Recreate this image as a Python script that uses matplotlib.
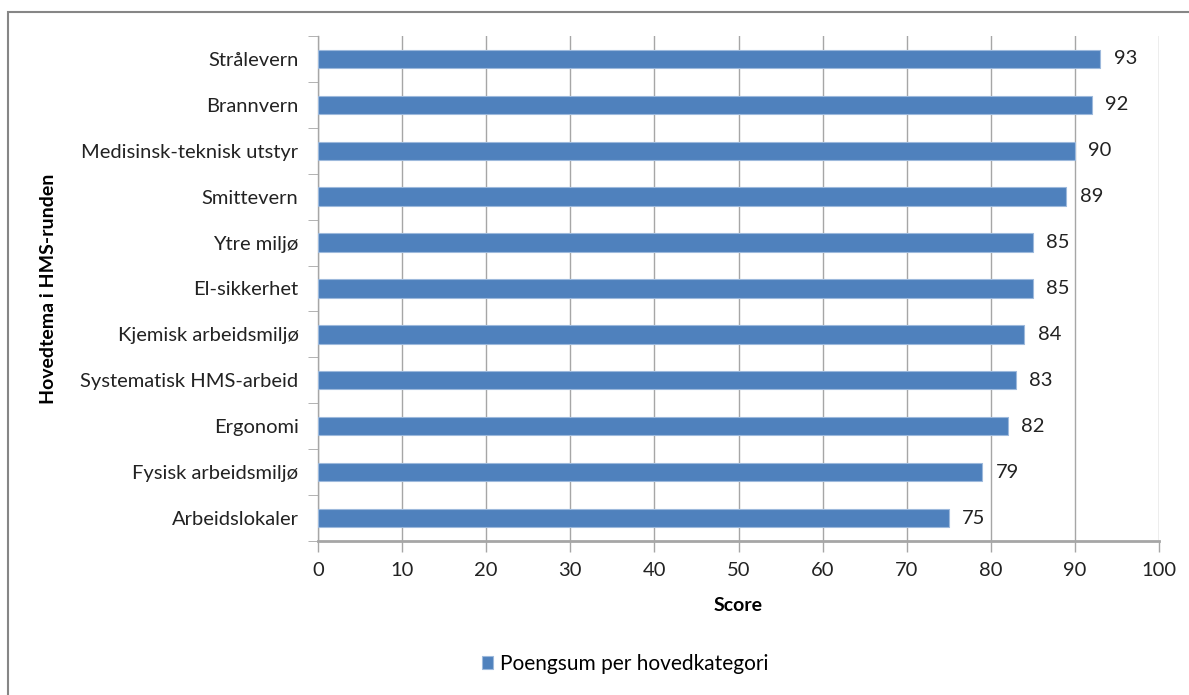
import matplotlib.pyplot as plt
from matplotlib.patches import Rectangle

# Data, top to bottom as shown in the chart
categories = ['Strålevern', 'Brannvern', 'Medisinsk-teknisk utstyr', 'Smittevern',
              'Ytre miljø', 'El-sikkerhet', 'Kjemisk arbeidsmiljø',
              'Systematisk HMS-arbeid', 'Ergonomi', 'Fysisk arbeidsmiljø',
              'Arbeidslokaler']
scores = [93, 92, 90, 89, 85, 85, 84, 83, 82, 79, 75]
x_ticks = [0, 10, 20, 30, 40, 50, 60, 70, 80, 90, 100]

plt.rcParams['font.family'] = ['Lato', 'DejaVu Sans']

fig = plt.figure(figsize=(11.89, 6.95), dpi=100)
ax = fig.add_axes([318 / 1189, 1 - 541 / 695, (1159 - 318) / 1189, (541 - 36) / 695])

# outer chart border (only top and left visible in the crop)
fig.patches.append(Rectangle((8 / 1189, -0.1), 1.2, 1 - 12 / 695 + 0.1,
                             transform=fig.transFigure, fill=False,
                             edgecolor='#868686', linewidth=1.5))

ypos = list(range(len(categories)))[::-1]
bars = ax.barh(ypos, scores, height=0.4, color='#4f81bd', edgecolor='#9db9dc',
               linewidth=0.8, zorder=3, label='Poengsum per hovedkategori')

for y, v in zip(ypos, scores):
    ax.text(v + 1.6, y, str(v), va='center', ha='left', fontsize=14.5, color='#222222')

ax.set_xlim(0, 100)
ax.set_ylim(-0.5, len(categories) - 0.5)
ax.set_xticks(x_ticks)
ax.set_yticks(ypos)
ax.set_yticklabels(categories)
ax.set_yticks([i - 0.5 for i in range(len(categories) + 1)], minor=True)

ax.grid(axis='x', color='#a6a6a6', linewidth=1, zorder=0)
for side in ['top', 'right']:
    ax.spines[side].set_visible(False)
ax.spines['bottom'].set_color('#a6a6a6')
ax.spines['bottom'].set_linewidth(2)
ax.spines['left'].set_color('#a6a6a6')
ax.spines['left'].set_linewidth(1)

ax.tick_params(axis='y', which='major', length=0, pad=14, labelsize=14.5, labelcolor='#222222')
ax.tick_params(axis='y', which='minor', length=7, color='#a6a6a6')
ax.tick_params(axis='x', length=8, color='#a6a6a6', width=1, pad=7,
               labelsize=14.5, labelcolor='#222222')

ax.set_xlabel('Score', fontsize=14, fontweight='bold', labelpad=13)
ax.set_ylabel('Hovedtema i HMS-runden', fontsize=14, fontweight='bold')
ax.yaxis.set_label_coords(-0.31, 0.5)

fig.legend(handles=[bars], loc='center', bbox_to_anchor=(625 / 1189, 1 - 664 / 695),
           frameon=False, fontsize=15, handlelength=0.55, handleheight=0.55,
           handletextpad=0.3)

fig.savefig('out.png', dpi=100)
